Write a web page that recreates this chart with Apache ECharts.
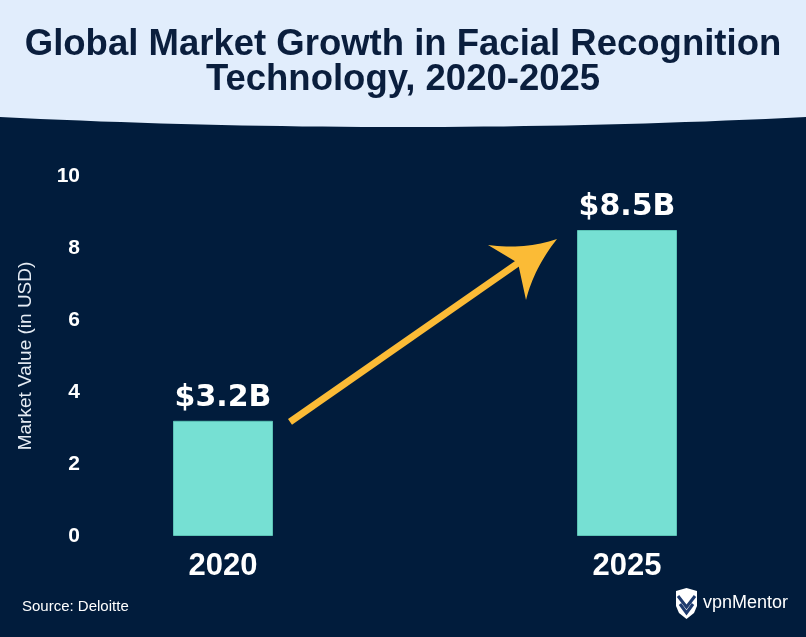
<!DOCTYPE html>
<html><head><meta charset="utf-8">
<script src="https://cdn.jsdelivr.net/npm/echarts@6/dist/echarts.min.js"></script>
<style>html,body{margin:0;padding:0;background:#011c3c}#c{width:806px;height:637px}</style>
</head><body><div id="c"></div>
<script>
const categories = ['2020', '2025'];
const marketValues = [3.2, 8.5];
const valueLabels = ['$3.2B', '$8.5B'];
const yTicks = [0, 2, 4, 6, 8, 10];

const NAVY = '#011c3c';
const chart = echarts.init(document.getElementById('c'));
const option = {
  backgroundColor: NAVY,
  animation: false,
  title: {
    text: 'Global Market Growth in Facial Recognition\nTechnology, 2020-2025',
    left: 'center', top: 22,
    textStyle: { fontFamily: 'Liberation Sans, Arial', fontWeight: 'bold', fontSize: 36.5, lineHeight: 35, color: '#0a1e3d', align: 'center' }
  },
  grid: { left: 21, width: 808, top: 176, bottom: 101, containLabel: false, outerBoundsMode: 'none' },
  xAxis: {
    type: 'category', data: categories,
    axisLine: { show: false }, axisTick: { show: false },
    axisLabel: { color: '#ffffff', fontFamily: 'Liberation Sans, Arial', fontWeight: 'bold', fontSize: 31, margin: 15 }
  },
  yAxis: {
    type: 'value', min: yTicks[0], max: yTicks[yTicks.length - 1], interval: 2,
    offset: -67,
    splitLine: { show: false }, axisLine: { show: false }, axisTick: { show: false },
    axisLabel: { color: '#ffffff', fontFamily: 'Liberation Sans, Arial', fontWeight: 'bold', fontSize: 21, margin: 8 },
    name: 'Market Value (in USD)', nameLocation: 'middle', nameGap: 53,
    nameTextStyle: { color: '#e6ecf4', fontFamily: 'Liberation Sans, Arial', fontSize: 19 }
  },
  series: [{
    type: 'bar', data: marketValues, barWidth: 100,
    itemStyle: { color: '#76e0d3', borderColor: '#5cc3b6', borderWidth: 1 },
    label: {
      show: true, position: 'top', distance: 8,
      formatter: p => valueLabels[p.dataIndex],
      color: '#ffffff', fontFamily: 'DejaVu Sans', fontWeight: 'bold', fontSize: 30
    }
  }]
};
chart.setOption(option);

function quad(p0, c, p1, n) {
  const pts = [];
  for (let i = 0; i <= n; i++) {
    const t = i / n, u = 1 - t;
    pts.push([u * u * p0[0] + 2 * u * t * c[0] + t * t * p1[0], u * u * p0[1] + 2 * u * t * c[1] + t * t * p1[1]]);
  }
  return pts;
}

// decorations anchored to the bars via the chart's own scales
const p0 = chart.convertToPixel({ seriesIndex: 0 }, [categories[0], marketValues[0]]);
const p1 = chart.convertToPixel({ seriesIndex: 0 }, [categories[1], marketValues[1]]);
const sx = p0[0] + 67, sy = p0[1] + 1;
const tx = p1[0] - 70, ty = p1[1] + 9;
const nx = tx - 39, ny = ty + 24;
const ax = tx - 69, ay = ty + 6;
const bx = tx - 31, by = ty + 61;
const W = 806;
const headerPts = [[0, 0], [W, 0]].concat(quad([W, 117], [W / 2, 137], [0, 117], 40));
const headPts = quad([ax, ay], [tx - 32, ty + 11], [tx, ty], 16)
  .concat(quad([tx, ty], [tx - 23, ty + 29], [bx, by], 16).slice(1))
  .concat([[nx, ny]]);
chart.setOption({
  graphic: [
    { type: 'polygon', z: -1, shape: { points: headerPts }, style: { fill: '#e1edfc' } },
    { type: 'line', shape: { x1: sx, y1: sy, x2: nx + 3, y2: ny - 2 }, style: { stroke: '#fbbb36', lineWidth: 7 } },
    { type: 'polygon', shape: { points: headPts }, style: { fill: '#fbbb36' } },
    { type: 'text', left: 22, top: 599, style: { text: 'Source: Deloitte', fill: '#ffffff', font: '15px "Liberation Sans", Arial' } },
    { type: 'text', left: 703, top: 594, style: { text: 'vpnMentor', fill: '#ffffff', font: '18px "Liberation Sans", Arial' } },
    { type: 'polygon', shape: { points: [[676, 591], [686.5, 588], [697, 591], [697, 606], [694, 613], [686.5, 619], [679, 613], [676, 606]] }, style: { fill: '#ffffff' } },
    { type: 'polyline', shape: { points: [[678, 596], [686.5, 607], [695, 596]] }, style: { stroke: '#1d3a6e', lineWidth: 3, fill: null } },
    { type: 'polyline', shape: { points: [[680, 604], [686.5, 613], [693, 604]] }, style: { stroke: '#1d3a6e', lineWidth: 3, fill: null } }
  ]
});
</script></body></html>
